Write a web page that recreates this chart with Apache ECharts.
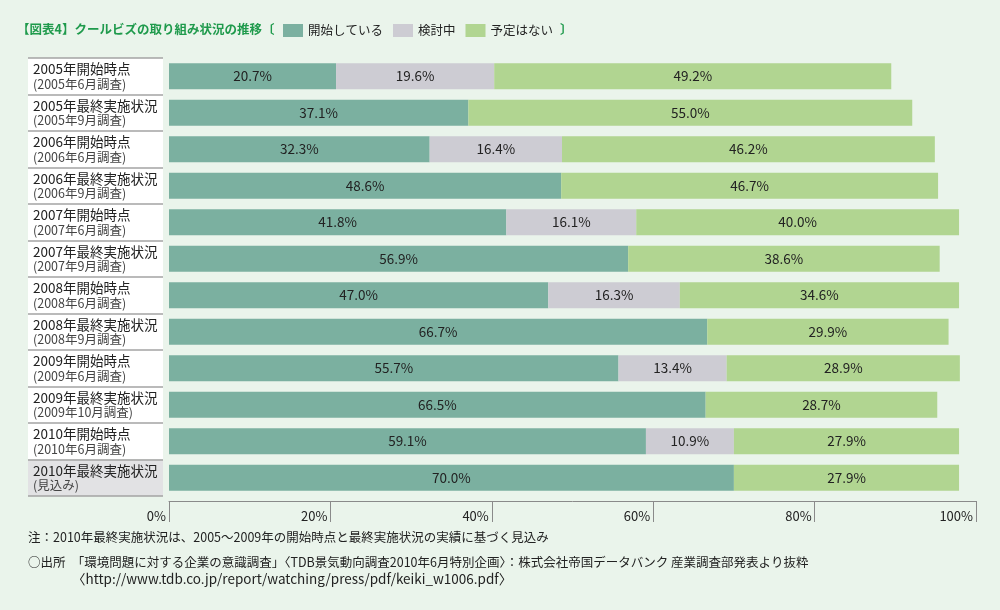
<!DOCTYPE html>
<html>
<head>
<meta charset="utf-8">
<script src="https://cdn.jsdelivr.net/npm/echarts@6/dist/echarts.min.js"></script>
<style>
  html, body { margin: 0; padding: 0; background: #eaf4eb; }
  #chart { width: 1000px; height: 610px; }
</style>
</head>
<body>
<div id="chart"></div>
<script>
// rows (top to bottom)
var categories = [
  '2005年開始時点', '2005年最終実施状況',
  '2006年開始時点', '2006年最終実施状況',
  '2007年開始時点', '2007年最終実施状況',
  '2008年開始時点', '2008年最終実施状況',
  '2009年開始時点', '2009年最終実施状況',
  '2010年開始時点', '2010年最終実施状況'
];
var subLabels = [
  '(2005年6月調査)', '(2005年9月調査)',
  '(2006年6月調査)', '(2006年9月調査)',
  '(2007年6月調査)', '(2007年9月調査)',
  '(2008年6月調査)', '(2008年9月調査)',
  '(2009年6月調査)', '(2009年10月調査)',
  '(2010年6月調査)', '(見込み)'
];
var seriesNames = ['開始している', '検討中', '予定はない'];
var started  = [20.7, 37.1, 32.3, 48.6, 41.8, 56.9, 47.0, 66.7, 55.7, 66.5, 59.1, 70.0];
var thinking = [19.6, null, 16.4, null, 16.1, null, 16.3, null, 13.4, null, 10.9, null];
var noPlan   = [49.2, 55.0, 46.2, 46.7, 40.0, 38.6, 34.6, 29.9, 28.9, 28.7, 27.9, 27.9];
var xTicks = [0, 20, 40, 60, 80, 100];

var colors = ['#7bb0a0', '#cdccd3', '#b1d591'];
var font = '"Noto Sans CJK JP", "Noto Sans", sans-serif';

var chart = echarts.init(document.getElementById('chart'));

// label boxes on the left: white rows, the last one grey
var boxColors = categories.map(function (c, i) {
  return i === categories.length - 1 ? '#e2e2e4' : '#ffffff';
});

function makeSeries(name, data, idx) {
  return {
    name: name,
    type: 'bar',
    stack: 'total',
    xAxisIndex: 0,
    yAxisIndex: 0,
    barWidth: 26,
    data: data,
    itemStyle: { color: colors[idx] },
    label: {
      show: true,
      position: 'inside',
      color: '#222',
      fontSize: 13.5,
      fontFamily: font,
      formatter: function (p) {
        return p.value == null ? '' : p.value.toFixed(1) + '%';
      }
    }
  };
}

var option = {
  backgroundColor: '#eaf4eb',
  animation: false,
  textStyle: { fontFamily: font },
  title: [
    {
      text: '【図表4】クールビズの取り組み状況の推移〔',
      left: 12,
      top: 18,
      textStyle: { color: '#1f9a4c', fontSize: 12.5, fontWeight: 'bold', fontFamily: font }
    },
    {
      text: '〕',
      left: 555,
      top: 18,
      textStyle: { color: '#1f9a4c', fontSize: 12.5, fontWeight: 'bold', fontFamily: font }
    }
  ],
  legend: {
    data: seriesNames,
    left: 278,
    top: 19,
    itemWidth: 20,
    itemHeight: 13,
    itemGap: 10,
    icon: 'rect',
    textStyle: { color: '#222', fontSize: 12.5, fontFamily: font }
  },
  grid: [
    { left: 169, right: 24, top: 58, height: 438 },
    { left: 28, width: 135, top: 58, height: 438 }
  ],
  xAxis: [
    {
      type: 'value',
      gridIndex: 0,
      min: xTicks[0],
      max: xTicks[xTicks.length - 1],
      interval: 20,
      position: 'bottom',
      offset: 5,
      axisLine: { show: true, lineStyle: { color: '#8a8a8a', width: 1 } },
      axisTick: { show: true, length: 21, lineStyle: { color: '#8a8a8a' } },
      splitLine: { show: false },
      axisLabel: {
        margin: 9,
        align: 'right',
        padding: [0, 3, 0, 0],
        color: '#222',
        fontSize: 13,
        fontFamily: font,
        formatter: '{value}%'
      }
    },
    { type: 'value', gridIndex: 1, show: false, min: 0, max: 1 }
  ],
  yAxis: [
    {
      type: 'category',
      gridIndex: 0,
      inverse: true,
      data: categories,
      axisLine: { show: false },
      axisTick: { show: false },
      axisLabel: { show: false }
    },
    {
      type: 'category',
      gridIndex: 1,
      inverse: true,
      data: categories,
      axisLine: { show: false },
      axisTick: { show: false },
      splitLine: { show: true, lineStyle: { color: '#a3a3a3', width: 1.5 } },
      splitArea: { show: true, areaStyle: { color: boxColors } },
      axisLabel: {
        inside: true,
        margin: 5,
        align: 'left',
        formatter: function (value, index) {
          return '{a|' + value + '}\n{b|' + subLabels[index] + '}';
        },
        rich: {
          a: { fontSize: 13.5, color: '#222', lineHeight: 15, fontFamily: font },
          b: { fontSize: 12.5, color: '#444', lineHeight: 14, fontFamily: font }
        }
      }
    }
  ],
  series: [
    makeSeries(seriesNames[0], started, 0),
    makeSeries(seriesNames[1], thinking, 1),
    makeSeries(seriesNames[2], noPlan, 2)
  ],
  graphic: [
    {
      type: 'text', left: 28, top: 531,
      style: { text: '注：2010年最終実施状況は、2005～2009年の開始時点と最終実施状況の実績に基づく見込み', fill: '#222', font: '12.5px ' + font }
    },
    {
      type: 'text', left: 28, top: 556,
      style: { text: '○出所　「環境問題に対する企業の意識調査」〈TDB景気動向調査2010年6月特別企画〉：株式会社帝国データバンク 産業調査部発表より抜粋', fill: '#222', font: '12.5px ' + font }
    },
    {
      type: 'text', left: 72, top: 572,
      style: { text: '〈http://www.tdb.co.jp/report/watching/press/pdf/keiki_w1006.pdf〉', fill: '#222', font: '13.5px ' + font }
    }
  ]
};

chart.setOption(option);
</script>
</body>
</html>
